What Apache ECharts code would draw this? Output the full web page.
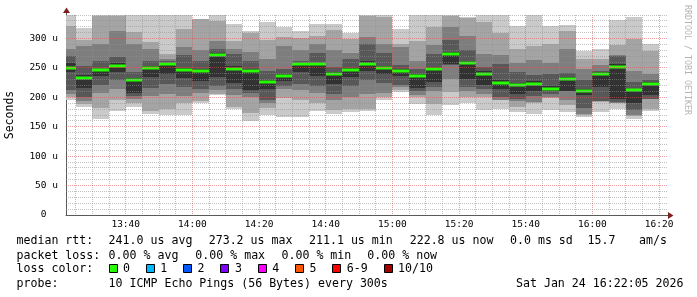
<!DOCTYPE html>
<html><head><meta charset="utf-8">
<script src="https://cdn.jsdelivr.net/npm/echarts@6/dist/echarts.min.js"></script>
<style>html,body{margin:0;padding:0;background:#fff}#c{width:697px;height:297px}</style>
</head><body><div id="c"></div>
<script>
// ---- data ----
const chartStart = '13:22:05';
const chartEnd = '16:22:05';
const binEnd = ['13:25','13:30','13:35','13:40','13:45','13:50','13:55','14:00','14:05','14:10','14:15','14:20',
  '14:25','14:30','14:35','14:40','14:45','14:50','14:55','15:00','15:05','15:10','15:15','15:20',
  '15:25','15:30','15:35','15:40','15:45','15:50','15:55','16:00','16:05','16:10','16:15','16:20'];
const medianRtt = [250.5,233,246,254,229,250,256,247,245,272,249,245,226,236,256,256,239,246,
  257,250,245,236,248,273.2,258,240,225,221,223,215,231,211.1,239,252,212,222.8];
// ten sorted ping times (microseconds) per 5-minute bin
const pingsSorted = [
  [196,200,206,213,243,258,271,283,321,340],
  [183,188,193,201,216,238,253,287,297,318],
  [164,182,207,221,236,249,262,290,339,340],
  [177,196,215,229,243,258,268,313,339,340],
  [183,190,197,202,207,233,243,290,311,340],
  [171,176,202,216,234,253,261,283,294,340],
  [170,180,205,222,240,259,262,265,273,340],
  [170,190,203,218,233,250,272,286,317,340],
  [190,193,208,215,227,248,262,280,333,334],
  [204,206,212,219,234,276,282,296,330,340],
  [181,183,204,215,224,253,273,283,295,324],
  [160,173,200,207,212,248,262,277,309,312],
  [170,182,190,195,214,230,245,265,297,328],
  [166,199,214,219,227,240,248,287,303,319],
  [166,195,212,222,243,259,262,281,301,312],
  [177,191,208,219,236,259,275,290,305,324],
  [171,178,196,205,222,243,252,280,314,324],
  [175,180,200,220,235,250,265,275,300,309],
  [176,180,205,230,245,262,290,302,339,340],
  [196,200,208,225,240,253,275,291,337,340],
  [209,213,217,221,236,248,255,286,291,317],
  [188,200,204,210,216,239,248,262,296,340],
  [170,188,210,218,226,251,273,289,319,340],
  [187,209,232,255,257,277,297,320,339,340],
  [191,200,210,218,232,262,280,304,335,337],
  [178,200,205,215,221,244,252,274,328,340],
  [180,195,196,201,215,229,257,272,310,340],
  [175,183,193,197,205,224,243,259,283,322],
  [172,191,192,203,210,227,238,263,287,340],
  [178,199,200,205,210,219,240,258,291,322],
  [175,187,195,210,211,234,241,283,312,323],
  [167,170,172,182,204,215,230,249,266,278],
  [175,192,193,194,218,243,245,255,266,283],
  [180,190,191,192,198,256,270,272,289,331],
  [164,169,170,178,190,215,226,244,300,337],
  [177,181,198,198,204,226,229,240,279,291]
];
const xLabelTimes = ['13:40','14:00','14:20','14:40','15:00','15:20','15:40','16:00','16:20'];
const yMin = 0, yMax = 340, yMajorStep = 50;
const yMinorTicks = [10,20,30,40,60,70,80,90,110,120,130,140,160,170,180,190,210,220,230,240,260,270,280,290,310,320,330,340];
const yMajorTicks = [50,100,150,200,250,300];
const statsMedian = ['241.0 us avg','273.2 us max','211.1 us min','222.8 us now','0.0 ms sd','15.7','am/s'];
const statsLoss = ['0.00 % avg','0.00 % max','0.00 % min','0.00 % now'];
const lossLabels = ['0','1','2','3','4','5','6-9','10/10'];
const lossColors = ['#26ff00','#00b8ff','#0059ff','#7e00ff','#ff00ff','#ff5500','#ff0000','#a00000'];
const probeText = '10 ICMP Echo Pings (56 Bytes) every 300s';
const stampText = 'Sat Jan 24 16:22:05 2026';

// ---- helpers ----
const toMin = s => { const p = s.split(':').map(Number); return p[0]*60 + p[1] + (p[2]||0)/60; };
const T0 = toMin(chartStart), T1 = toMin(chartEnd);
const shades = ['#cacaca','#a4a4a4','#7e7e7e','#585858','#323232','#585858','#7e7e7e','#a4a4a4','#cacaca'];
const FONT = "'DejaVu Sans Mono', monospace";

const smokeData = binEnd.map((e,i) => [i === 0 ? T0 : toMin(binEnd[i-1]), toMin(e)].concat(pingsSorted[i]));
const medianData = binEnd.map((e,i) => [i === 0 ? T0 : toMin(binEnd[i-1]), toMin(e), medianRtt[i]]);
const minorX = binEnd.filter(t => xLabelTimes.indexOf(t) < 0).map(toMin);
const majorX = xLabelTimes.map(toMin);

const px = v => Math.floor(v) + 0.5;
const DOT = [1,1];
const AXIS_COL = '#5a5a5a';
const ARROW_COL = '#801f1f';

const chart = echarts.init(document.getElementById('c'), null, {renderer:'canvas'});
chart.setOption({
  animation: false,
  backgroundColor: '#ffffff',
  grid: {left: 66, right: 31, top: 15, bottom: 82, containLabel: false, outerBoundsMode: 'none'},
  xAxis: {
    type: 'value', min: T0, max: T1,
    axisLine: {show: true, lineStyle: {color: AXIS_COL, width: 1}},
    axisTick: {show: false}, axisLabel: {show: false}, splitLine: {show: false}
  },
  yAxis: {
    type: 'value', min: yMin, max: yMax, interval: yMajorStep,
    name: 'Seconds', nameLocation: 'middle', nameGap: 50, nameRotate: 90,
    nameTextStyle: {fontFamily: FONT, fontSize: 11.5, color: '#000'},
    axisLine: {show: true, lineStyle: {color: AXIS_COL, width: 1}},
    axisTick: {show: false},
    axisLabel: {margin: 8, fontFamily: FONT, fontSize: 9.5, color: '#000',
      formatter: v => v === 0 ? '0  ' : (v % yMajorStep === 0 && v <= 300 ? v + ' u' : '')},
    splitLine: {show: false}
  },
  series: [
    { // smoke
      type: 'custom', z: 2, silent: true, data: smokeData,
      encode: {x: [0,1], y: [2,11]},
      renderItem: (params, api) => {
        const t0 = api.value(0), t1 = api.value(1);
        const x0 = Math.round(api.coord([t0, 0])[0]), x1 = Math.round(api.coord([t1, 0])[0]);
        const ch = [];
        for (let j = 0; j < 9; j++) {
          const yt = Math.round(api.coord([t0, api.value(3+j)])[1]);
          const yb = Math.round(api.coord([t0, api.value(2+j)])[1]);
          if (yb - yt <= 0) continue;
          ch.push({type:'rect', shape:{x:x0, y:yt, width:x1-x0, height:yb-yt}, style:{fill: shades[j]}});
        }
        return {type:'group', children: ch};
      }
    },
    { // median rtt, colored by loss
      type: 'custom', z: 3, silent: true, data: medianData,
      encode: {x: [0,1], y: 2},
      renderItem: (params, api) => {
        const a = api.coord([api.value(0), api.value(2)]);
        const b = api.coord([api.value(1), api.value(2)]);
        const x0 = Math.round(a[0]), x1 = Math.round(b[0]);
        const y = Math.round(a[1]);
        return {type:'rect', shape:{x:x0, y:y-1.5, width:x1-x0, height:3}, style:{fill: lossColors[0]}};
      }
    },
    { // vertical minor grid
      type: 'custom', z: 4, silent: true, data: minorX.map(t => [t]),
      encode: {x: 0},
      renderItem: (params, api) => {
        const cs = params.coordSys;
        const x = px(api.coord([api.value(0), 0])[0]);
        return {type:'line', shape:{x1:x, y1:cs.y, x2:x, y2:cs.y+cs.height},
          style:{stroke:'rgba(143,143,143,0.55)', lineWidth:1, lineDash: DOT}};
      }
    },
    { // vertical major grid
      type: 'custom', z: 4, silent: true, data: majorX.map(t => [t]),
      encode: {x: 0},
      renderItem: (params, api) => {
        const cs = params.coordSys;
        const x = px(api.coord([api.value(0), 0])[0]);
        return {type:'line', shape:{x1:x, y1:cs.y, x2:x, y2:cs.y+cs.height},
          style:{stroke:'rgba(222,79,79,0.55)', lineWidth:1, lineDash: DOT}};
      }
    },
    { // horizontal minor grid
      type: 'custom', z: 4, silent: true, data: yMinorTicks.map(v => [T0, v]),
      encode: {x: 0, y: 1},
      renderItem: (params, api) => {
        const cs = params.coordSys;
        const y = px(api.coord([T0, api.value(1)])[1]);
        return {type:'line', shape:{x1:cs.x, y1:y, x2:cs.x+cs.width+2, y2:y},
          style:{stroke:'rgba(143,143,143,0.55)', lineWidth:1, lineDash: DOT}};
      }
    },
    { // horizontal major grid
      type: 'custom', z: 4, silent: true, data: yMajorTicks.map(v => [T0, v]),
      encode: {x: 0, y: 1},
      renderItem: (params, api) => {
        const cs = params.coordSys;
        const y = px(api.coord([T0, api.value(1)])[1]);
        return {type:'line', shape:{x1:cs.x, y1:y, x2:cs.x+cs.width+2, y2:y},
          style:{stroke:'rgba(222,79,79,0.55)', lineWidth:1, lineDash: DOT}};
      }
    },
    { // time labels
      type: 'custom', z: 5, silent: true, clip: false,
      data: xLabelTimes.map((s,i) => [toMin(s), i]),
      encode: {x: 0},
      renderItem: (params, api) => {
        const p = api.coord([api.value(0), 0]);
        return {type:'text', x: p[0], y: p[1] + 5,
          style:{text: xLabelTimes[api.value(1)], font: '9.5px ' + FONT, fill:'#000',
            align:'center', verticalAlign:'top', textAlign:'center', textVerticalAlign:'top'}};
      }
    },
    { // axis arrows (rrdtool style)
      type: 'custom', z: 6, silent: true, clip: false,
      data: [[T0, yMax, 0], [T1, yMin, 1]],
      encode: {x: 0, y: 1},
      renderItem: (params, api) => {
        const p = api.coord([api.value(0), api.value(1)]);
        if (api.value(2) === 0) {
          const x = px(p[0]), y = p[1];
          return {type:'group', children:[
            {type:'line', shape:{x1:x, y1:y, x2:x, y2:y-3}, style:{stroke:AXIS_COL, lineWidth:1}},
            {type:'polygon', shape:{points:[[x-3.5, y-2], [x+3.5, y-2], [x, y-7.5]]}, style:{fill:ARROW_COL}}
          ]};
        }
        const x = p[0], y = px(p[1]);
        return {type:'group', children:[
          {type:'line', shape:{x1:x, y1:y, x2:x+3, y2:y}, style:{stroke:AXIS_COL, lineWidth:1}},
          {type:'polygon', shape:{points:[[x+2, y-3.5], [x+2, y+3.5], [x+7.5, y]]}, style:{fill:ARROW_COL}}
        ]};
      }
    }
  ],
  graphic: {elements: (function(){
    const els = [];
    const txt = (x, y, s) => els.push({type:'text', x:x, y:y,
      style:{text:s, font:'11.6px ' + FONT, fill:'#000', verticalAlign:'middle', textVerticalAlign:'middle'}});
    // line 1
    const l1y = 241, l1x = [108.6, 208.7, 309, 409.7, 510, 587.6, 639];
    txt(16.5, l1y, 'median rtt:');
    statsMedian.forEach((s,i) => txt(l1x[i], l1y, s));
    // line 2
    const l2y = 255.7, l2x = [108.6, 195.3, 281.5, 367.3];
    txt(16.5, l2y, 'packet loss:');
    statsLoss.forEach((s,i) => txt(l2x[i], l2y, s));
    // line 3
    const l3y = 269;
    txt(16.5, l3y, 'loss color:');
    let bx = 108.5;
    lossLabels.forEach((s,i) => {
      els.push({type:'rect', shape:{x:Math.round(bx)+0.5, y:264.5, width:8, height:8},
        style:{fill: lossColors[i], stroke:'#000', lineWidth:1}});
      txt(bx + 14.5, l3y, s);
      bx += 30.3 + 7 * s.length;
    });
    // line 4
    const l4y = 283.7;
    txt(16.5, l4y, 'probe:');
    txt(108.6, l4y, probeText);
    els.push({type:'text', x:683.5, y:l4y, style:{text:stampText, font:'11.6px ' + FONT, fill:'#000',
      align:'right', textAlign:'right', verticalAlign:'middle', textVerticalAlign:'middle'}});
    // watermark
    els.push({type:'text', x:687.5, y:60, rotation:-Math.PI/2,
      style:{text:'RRDTOOL / TOBI OETIKER', font:'8.3px ' + FONT, fill:'#b4b4b4',
        align:'center', textAlign:'center', verticalAlign:'middle', textVerticalAlign:'middle'}});
    return els;
  })()}
});
</script></body></html>
